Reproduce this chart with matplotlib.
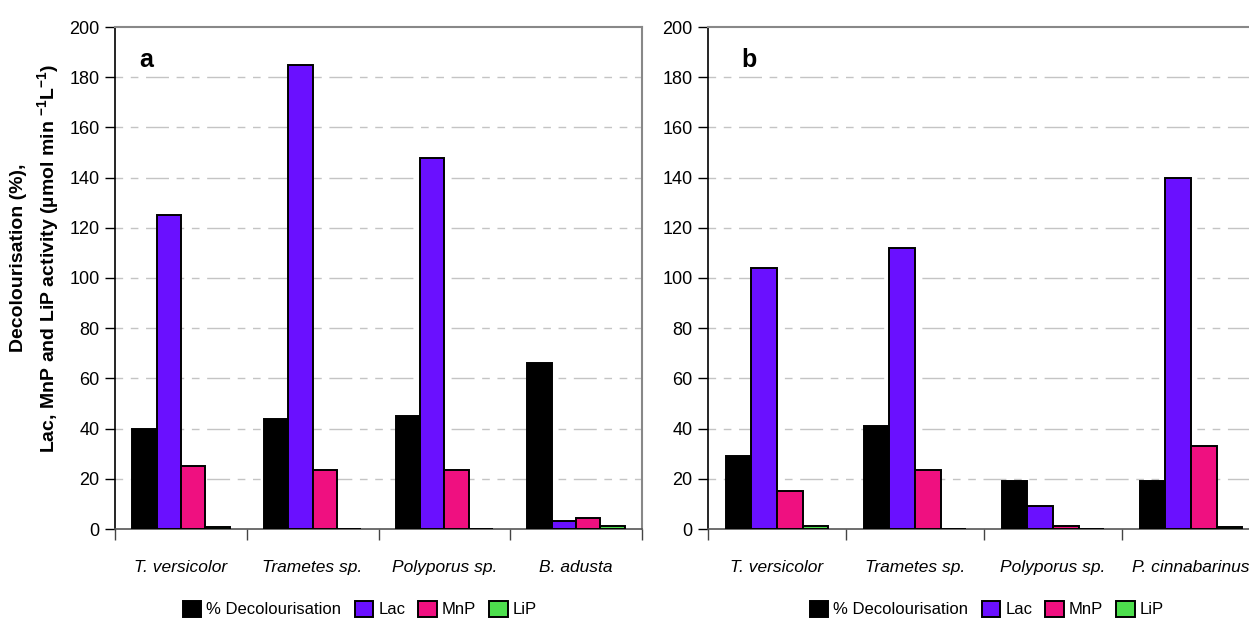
import matplotlib
matplotlib.use("Agg")
import matplotlib.pyplot as plt
import numpy as np
from matplotlib.patches import Patch

plt.rcParams['font.family'] = ['Liberation Sans', 'DejaVu Sans']
plt.rcParams['mathtext.fontset'] = 'custom'
plt.rcParams['mathtext.rm'] = 'Liberation Sans'
plt.rcParams['mathtext.bf'] = 'Liberation Sans:bold'

series = ['% Decolourisation', 'Lac', 'MnP', 'LiP']
colors = ['#000000', '#6a10ff', '#ef1080', '#4ddf4d']

cats_a = ['T. versicolor', 'Trametes sp.', 'Polyporus sp.', 'B. adusta']
decol_a = [40, 44, 45, 66]
lac_a = [125, 185, 148, 3]
mnp_a = [25, 23.5, 23.5, 4.5]
lip_a = [0.8, 0, 0, 1.3]

cats_b = ['T. versicolor', 'Trametes sp.', 'Polyporus sp.', 'P. cinnabarinus']
decol_b = [29, 41, 19, 19]
lac_b = [104, 112, 9, 140]
mnp_b = [15, 23.5, 1.3, 33]
lip_b = [1.3, 0, 0, 0.7]

yticks = [0, 20, 40, 60, 80, 100, 120, 140, 160, 180, 200]

W, H = 1249, 619
fig = plt.figure(figsize=(W / 100, H / 100), dpi=100)

def px_axes(x0, y0, x1, y1):
    return fig.add_axes([x0 / W, 1 - y1 / H, (x1 - x0) / W, (y1 - y0) / H])

ax_a = px_axes(115, 27, 642, 529)
ax_b = px_axes(708, 27, 1260, 529)

def draw(ax, cats, data, letter, letter_px, legend_x):
    n = len(data)
    bw = 0.185
    x = np.arange(len(cats))
    for i, (vals, col) in enumerate(zip(data, colors)):
        ax.bar(x + (i - (n - 1) / 2) * bw, vals, width=bw, color=col,
               edgecolor='black', linewidth=1.4, zorder=3)
    ax.set_xlim(-0.5, len(cats) - 0.5)
    ax.set_ylim(0, 200)
    ax.set_yticks(yticks)
    ax.set_yticklabels([str(t) for t in yticks], fontsize=13)
    for t in yticks[1:-1]:
        ax.axhline(t, color='#c4c4c4', linewidth=1.0,
                   linestyle=(0, (5.5, 5.5, 5.5, 5.5, 16.5, 5.5)), zorder=1)
    ax.set_xticks(np.arange(-0.5, len(cats), 1.0))
    ax.set_xticklabels([])
    ax.set_xticks(x, minor=True)
    ax.set_xticklabels(cats, minor=True, fontsize=12.5, style='italic')
    ax.tick_params(axis='x', which='major', length=8, width=1, color='#444444', direction='out')
    ax.tick_params(axis='x', which='minor', length=0, pad=22)
    ax.tick_params(axis='y', length=7, width=1, direction='out', pad=4, color='black')
    ax.spines['left'].set_color('black')
    ax.spines['left'].set_linewidth(1.2)
    ax.spines['bottom'].set_color('#555555')
    ax.spines['bottom'].set_linewidth(1.2)
    ax.spines['top'].set_color('#888888')
    ax.spines['top'].set_linewidth(1.5)
    ax.spines['right'].set_color('#888888')
    ax.spines['right'].set_linewidth(1.5)
    fig.text(letter_px / W, 1 - 67 / H, letter, fontsize=18,
             fontweight='bold', va='baseline', ha='left')
    handles = [Patch(facecolor=c, edgecolor='black', linewidth=1.4, label=s)
               for s, c in zip(series, colors)]
    fig.legend(handles=handles, loc='center', bbox_to_anchor=(legend_x / W, 1 - 609 / H),
               ncol=4, frameon=False, fontsize=12, handlelength=1.1, handleheight=1.1,
               handletextpad=0.3, columnspacing=0.8, borderpad=0)

draw(ax_a, cats_a, [decol_a, lac_a, mnp_a, lip_a], 'a', 139, 360)
draw(ax_b, cats_b, [decol_b, lac_b, mnp_b, lip_b], 'b', 741, 987)

fig.text(36 / W, 1 - 258 / H,
         'Decolourisation (%),\nLac, MnP and LiP activity (µmol min $^{\\mathbf{-1}}$L$^{\\mathbf{-1}}$)',
         fontsize=14, fontweight='bold', rotation=90, ha='center', va='center',
         multialignment='center', linespacing=1.4)

fig.savefig('out.png', dpi=100)
